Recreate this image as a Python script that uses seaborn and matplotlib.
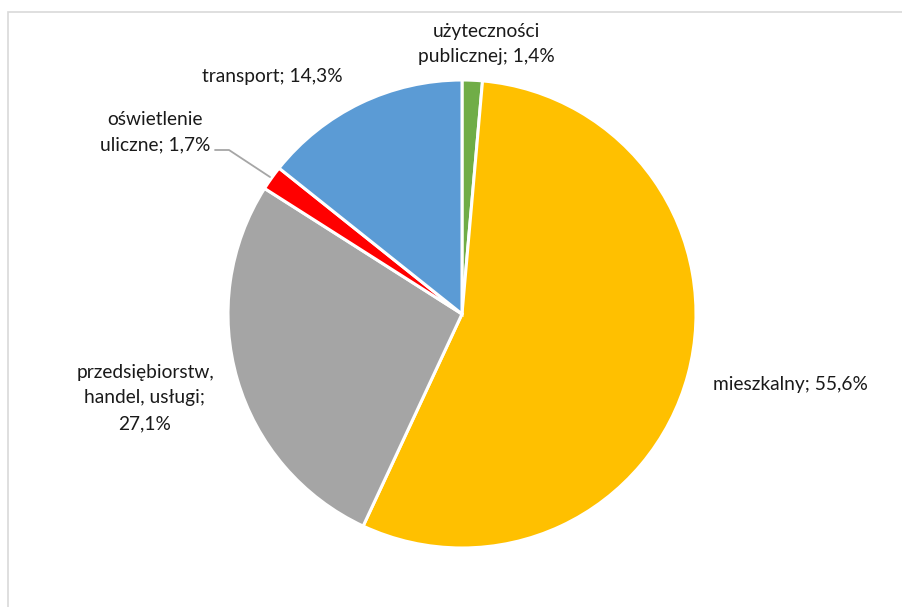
import matplotlib
matplotlib.use("Agg")
import matplotlib.pyplot as plt
import seaborn as sns
from matplotlib.patches import Rectangle

categories = ["użyteczności\npublicznej", "mieszkalny", "przedsiębiorstw,\nhandel, usługi",
              "oświetlenie\nuliczne", "transport"]
values = [1.4, 55.6, 27.1, 1.7, 14.3]
label_texts = ["użyteczności\npublicznej; 1,4%", "mieszkalny; 55,6%",
               "przedsiębiorstw,\nhandel, usługi;\n27,1%", "oświetlenie\nuliczne; 1,7%",
               "transport; 14,3%"]
colors = ["#70AD47", "#FFC000", "#A5A5A5", "#FF0000", "#5B9BD5"]

sns.set_theme(style="white")
plt.rcParams['font.family'] = ['Lato', 'DejaVu Sans']

W, H = 903, 607
cx, cy, R = 462, 314, 234
fig = plt.figure(figsize=(W / 100, H / 100), dpi=100)
ax = fig.add_axes([0, 0, 1, 1])
ax.pie(values, colors=colors, startangle=90, counterclock=False, radius=1,
       wedgeprops=dict(edgecolor="white", linewidth=2.2))
ax.set_xlim(-cx / R, (W - cx) / R)
ax.set_ylim(-(H - cy) / R, cy / R)
ax.set_aspect("equal")
ax.axis("off")

def d(px, py):
    return (px - cx) / R, (cy - py) / R

label_pos = [(486, 44, "center"), (790, 385, "center"), (145, 398, "center"),
             (155, 132, "center"), (272, 77, "center")]
for txt, (px, py, ha) in zip(label_texts, label_pos):
    x, y = d(px, py)
    ax.text(x, y, txt, ha=ha, va="center", fontsize=13.8, color="#1a1a1a",
            linespacing=1.6)

# leader line for oświetlenie uliczne
p0, p1, p2 = d(215, 150), d(229, 150), d(270, 177)
ax.plot([p0[0], p1[0], p2[0]], [p0[1], p1[1], p2[1]], color="#A6A6A6", lw=1.3)

fig.patches.append(Rectangle((8 / W, -0.1), 1.1, (H - 12) / H + 0.1, transform=fig.transFigure,
                             fill=False, edgecolor="#D9D9D9", lw=1.2))
fig.savefig("out.png", dpi=100)
